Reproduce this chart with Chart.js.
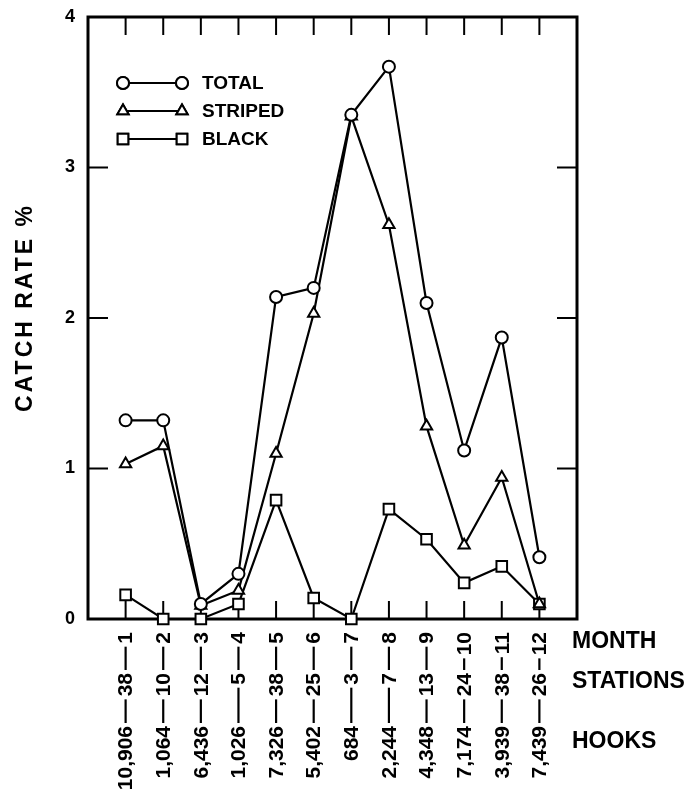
<!DOCTYPE html>
<html>
<head>
<meta charset="utf-8">
<title>Catch rate by month</title>
<script src="https://cdn.jsdelivr.net/npm/chart.js@4/dist/chart.umd.min.js"></script>
<style>
  html, body { margin: 0; padding: 0; background: #fff; }
  canvas { display: block; }
</style>
</head>
<body>
<canvas id="c" width="690" height="791"></canvas>
<script>
// Monthly longline effort and catch rates
const months   = [1, 2, 3, 4, 5, 6, 7, 8, 9, 10, 11, 12];
const stations = [38, 10, 12, 5, 38, 25, 3, 7, 13, 24, 38, 26];
const hooks    = ['10,906', '1,064', '6,436', '1,026', '7,326', '5,402', '684', '2,244', '4,348', '7,174', '3,939', '7,439'];

const total   = [1.32, 1.32, 0.10, 0.30, 2.14, 2.20, 3.35, 3.67, 2.10, 1.12, 1.87, 0.41];
const striped = [1.03, 1.15, 0.09, 0.19, 1.10, 2.03, 3.34, 2.62, 1.28, 0.49, 0.94, 0.10];
const black   = [0.16, 0.00, 0.00, 0.10, 0.79, 0.14, 0.00, 0.73, 0.53, 0.24, 0.35, 0.10];

const yTicks = [0, 1, 2, 3, 4];
const rowNames = ['MONTH', 'STATIONS', 'HOOKS'];
const yTitle = 'CATCH RATE %';

const INK = '#000';
const FONT = "'Liberation Sans', Arial, sans-serif";

function pts(vals) { return months.map((m, i) => ({ x: m, y: vals[i] })); }

function series(label, vals, style, radius) {
  return {
    label,
    data: pts(vals),
    borderColor: INK,
    borderWidth: 2.2,
    pointStyle: style,
    pointRadius: radius,
    pointHoverRadius: radius,
    pointBackgroundColor: '#fff',
    pointBorderColor: INK,
    pointBorderWidth: 2,
    tension: 0,
    clip: false
  };
}

const datasets = [
  series('TOTAL', total, 'circle', 6),
  series('STRIPED', striped, 'triangle', 6.5),
  series('BLACK', black, 'rect', 7.5)
];

function marker(ctx, style, radius, x, y) {
  ctx.save();
  ctx.lineWidth = 2;
  ctx.strokeStyle = INK;
  ctx.fillStyle = '#fff';
  if (Chart.helpers && Chart.helpers.drawPoint) {
    Chart.helpers.drawPoint(ctx, { pointStyle: style, radius: radius, rotation: 0, borderWidth: 2 }, x, y);
    ctx.fill();
    ctx.stroke();
  } else {
    ctx.beginPath();
    if (style === 'circle') ctx.arc(x, y, radius, 0, Math.PI * 2);
    else if (style === 'rect') { const s = radius * Math.SQRT1_2; ctx.rect(x - s, y - s, 2 * s, 2 * s); }
    else {
      ctx.moveTo(x, y - radius);
      ctx.lineTo(x + radius * 0.866, y + radius * 0.5);
      ctx.lineTo(x - radius * 0.866, y + radius * 0.5);
      ctx.closePath();
    }
    ctx.fill();
    ctx.stroke();
  }
  ctx.restore();
}

// Box frame with inward tick marks, drawn under the data
const framePlugin = {
  id: 'frame',
  beforeDatasetsDraw(chart) {
    const { ctx, chartArea: a, scales: { x, y } } = chart;
    ctx.save();
    ctx.strokeStyle = INK;
    ctx.lineWidth = 3;
    ctx.strokeRect(a.left, a.top, a.right - a.left, a.bottom - a.top);
    ctx.lineWidth = 2;
    ctx.beginPath();
    months.forEach(m => {
      const px = x.getPixelForValue(m);
      ctx.moveTo(px, a.top); ctx.lineTo(px, a.top + 18);
      ctx.moveTo(px, a.bottom); ctx.lineTo(px, a.bottom - 18);
    });
    yTicks.slice(1, -1).forEach(v => {
      const py = y.getPixelForValue(v);
      ctx.moveTo(a.left, py); ctx.lineTo(a.left + 20, py);
      ctx.moveTo(a.right, py); ctx.lineTo(a.right - 20, py);
    });
    ctx.stroke();
    ctx.restore();
  }
};

// Rotated month / stations / hooks labels, row names, axis title and key
const labelPlugin = {
  id: 'labels',
  afterDraw(chart) {
    const { ctx, chartArea: a, scales: { x, y } } = chart;
    ctx.save();
    ctx.fillStyle = INK;
    ctx.strokeStyle = INK;

    // category labels, reading upward, each column ends at a fixed line
    ctx.font = 'bold 21px ' + FONT;
    const monthTop = a.bottom + 13, stTop = a.bottom + 54, hkTop = a.bottom + 107;
    months.forEach((m, i) => {
      const px = x.getPixelForValue(m);
      const parts = [[String(m), monthTop, stTop - 3], [String(stations[i]), stTop, hkTop - 3], [hooks[i], hkTop, null]];
      parts.forEach(([txt, top, dashEnd]) => {
        ctx.save();
        ctx.translate(px, top);
        ctx.rotate(-Math.PI / 2);
        ctx.textAlign = 'right';
        ctx.textBaseline = 'middle';
        ctx.fillText(txt, 0, 1);
        ctx.restore();
        if (dashEnd !== null) {
          const w = ctx.measureText(txt).width;
          ctx.lineWidth = 2.2;
          ctx.beginPath();
          ctx.moveTo(px, top + w + 3);
          ctx.lineTo(px, dashEnd);
          ctx.stroke();
        }
      });
    });

    // row names at the right
    ctx.font = 'bold 23px ' + FONT;
    ctx.textAlign = 'left';
    ctx.textBaseline = 'middle';
    const rowY = [a.bottom + 23, a.bottom + 63, a.bottom + 123];
    rowNames.forEach((t, i) => ctx.fillText(t, a.right - 5, rowY[i]));

    // y axis title
    ctx.save();
    ctx.font = 'bold 23px ' + FONT;
    ctx.letterSpacing = '3px';
    ctx.translate(26, y.getPixelForValue(2.07));
    ctx.rotate(-Math.PI / 2);
    ctx.textAlign = 'center';
    ctx.textBaseline = 'middle';
    ctx.fillText(yTitle, 0, 0);
    ctx.restore();

    // key
    ctx.font = 'bold 19px ' + FONT;
    ctx.textAlign = 'left';
    ctx.textBaseline = 'middle';
    chart.data.datasets.forEach((ds, i) => {
      const ky = a.top + 66 + i * 28;
      const x0 = a.left + 35, x1 = a.left + 94;
      ctx.lineWidth = 2;
      ctx.beginPath();
      ctx.moveTo(x0, ky); ctx.lineTo(x1, ky);
      ctx.stroke();
      marker(ctx, ds.pointStyle, ds.pointRadius, x0, ky);
      marker(ctx, ds.pointStyle, ds.pointRadius, x1, ky);
      ctx.fillStyle = INK;
      ctx.fillText(ds.label, a.left + 114, ky + 1);
    });
    ctx.restore();
  }
};

new Chart(document.getElementById('c'), {
  type: 'line',
  data: { datasets },
  plugins: [framePlugin, labelPlugin],
  options: {
    responsive: false,
    devicePixelRatio: 1,
    animation: false,
    events: [],
    layout: { padding: { top: 17, right: 113, left: 0, bottom: 0 } },
    plugins: { legend: { display: false }, tooltip: { enabled: false }, title: { display: false } },
    scales: {
      x: {
        type: 'linear',
        min: 0,
        max: 13,
        grid: { display: false },
        border: { display: false },
        ticks: { display: false },
        afterFit(scale) { scale.height = 172; scale.paddingLeft = 0; scale.paddingRight = 0; }
      },
      y: {
        type: 'linear',
        min: 0,
        max: 4,
        afterBuildTicks(scale) { scale.ticks = yTicks.map(v => ({ value: v })); },
        grid: { display: false, drawTicks: false },
        border: { display: false },
        ticks: {
          color: INK,
          padding: 13,
          font: { family: FONT, size: 18, weight: 'bold' },
          callback: v => String(v)
        },
        afterFit(scale) { scale.width = 88; scale.paddingTop = 0; scale.paddingBottom = 0; }
      }
    }
  }
});
</script>
</body>
</html>
